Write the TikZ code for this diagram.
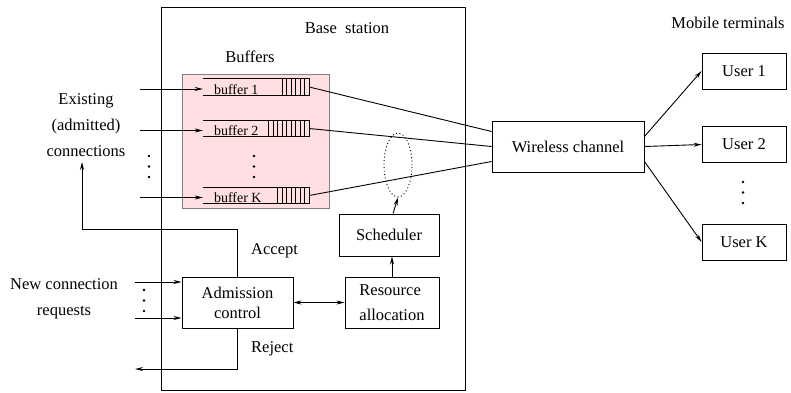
\documentclass[tikz,border=0pt]{standalone}
\usepackage{fontspec}
\setmainfont{Liberation Serif}
\usetikzlibrary{arrows.meta,shapes.geometric}
\definecolor{bufpink}{RGB}{255,223,223}
\newcommand{\dotcol}[2]{\foreach \d in {0,10.5,21} \fill (#1,#2+\d) circle (1.4);}
\tikzset{
	ftip/.tip={Stealth[length=8pt,width=4pt]},
	box/.style={draw, line width=0.9pt, inner sep=0pt, font=\fontsize{16.5}{19}\selectfont},
	lbl/.style={inner sep=0pt, font=\fontsize{16.5}{19}\selectfont},
	arr/.style={-ftip, line width=0.9pt},
	ln/.style={line width=0.9pt},
}
\begin{document}
\begin{tikzpicture}[x=1pt,y=-1pt]
	\useasboundingbox (0,0) rectangle (791,392);
	% base station and buffers
	\node [box, minimum width=304, minimum height=383] at (313,198.5) (bs) {};
	\node [lbl] at (347,28) (bslab) {Base\ \ station};
	\node [draw=gray, fill=bufpink, line width=0.9pt, minimum width=147, minimum height=134] at (255.5,141) (bufs) {};
	\node [lbl] at (250,57) (bufslab) {Buffers};
	\foreach \n/\y/\k in {1/87/6, 2/128.5/9, K/195.5/7} {
		\node [minimum width=106, minimum height=16, inner sep=0pt] at (256,\y) (buf\n) {};
		\draw [ln] (buf\n.north west) -- (buf\n.north east) -- (buf\n.south east) -- (buf\n.south west);
		\foreach \i in {1,...,\k}
			\draw [ln] ([xshift={-4.5pt*\i}]buf\n.north east) -- ([xshift={-4.5pt*\i}]buf\n.south east);
		\node [lbl, anchor=base west, font=\fontsize{14}{16}\selectfont] at ([xshift=11pt,yshift=1pt]buf\n.south west) (lab\n) {buffer \n};
		\coordinate (ex\n) at (140,\y+2);
		\draw [arr] (ex\n) -- ([yshift=-2pt]buf\n.west);
	}
	\dotcol{149}{156}
	\dotcol{254}{156}
	\node [lbl, align=center, font=\fontsize{16.5}{26}\selectfont] at (86,125) (exlab) {Existing\\(admitted)\\connections};
	% wireless channel and users
	\node [box, minimum width=152, minimum height=51] at (568,146.5) (wc) {Wireless channel};
	\draw [ln] (buf1.east) -- ([yshift=15pt]wc.west);
	\draw [ln] (buf2.east) -- (wc.west);
	\draw [ln] (bufK.east) -- ([yshift=-15pt]wc.west);
	\node [lbl] at (728,23) (mtlab) {Mobile terminals};
	\node [box, minimum width=84, minimum height=36] at (744,71) (u1) {User 1};
	\node [box, minimum width=84, minimum height=36] at (744,144.5) (u2) {User 2};
	\node [box, minimum width=84, minimum height=36] at (744,242) (uK) {User K};
	\draw [arr] ([yshift=10pt]wc.east) -- (u1.west);
	\draw [arr] (wc.east) -- (u2.west);
	\draw [arr] ([yshift=-15pt]wc.east) -- (uK.west);
	\dotcol{743}{182}
	% scheduler, resource allocation, admission control
	\node [draw, dash pattern=on 1pt off 2.5pt, line width=0.9pt, ellipse, minimum width=28, minimum height=64] at (398,165) (sel) {};
	\node [box, minimum width=100, minimum height=42] at (389,235) (sch) {Scheduler};
	\node [box, minimum width=94, minimum height=51, align=left, font=\fontsize{16.5}{25}\selectfont] at (392,302.5) (ra) {Resource\\allocation};
	\node [box, minimum width=111, minimum height=51, align=center, font=\fontsize{16.5}{20}\selectfont] at (237.5,302.5) (ac) {Admission\\control};
	\draw [arr] (ra.north) -- (ra.north |- sch.south);
	\draw [arr] ([xshift=4pt]sch.north) -- (sel.south);
	\draw [ln, ftip-ftip] (ac.east) -- (ra.west);
	% new connections, accept and reject
	\node [lbl, align=center, font=\fontsize{16.5}{26}\selectfont] at (64,299) (nclab) {New connection\\requests};
	\coordinate (nc1) at (135,282);
	\coordinate (nc2) at (135,318);
	\draw [arr] (nc1) -- (ac.west |- nc1);
	\draw [arr] (nc2) -- (ac.west |- nc2);
	\dotcol{144}{290}
	\coordinate (accturn) at (82,229);
	\coordinate (acc) at (82,162);
	\draw [arr] (ac.north) |- (accturn) -- (acc);
	\node [lbl, anchor=west] at (251,251) (acclab) {Accept};
	\coordinate (rej) at (135,369);
	\draw [arr] (ac.south) |- (rej);
	\node [lbl, anchor=west] at (251,349) (rejlab) {Reject};
\end{tikzpicture}
\end{document}
